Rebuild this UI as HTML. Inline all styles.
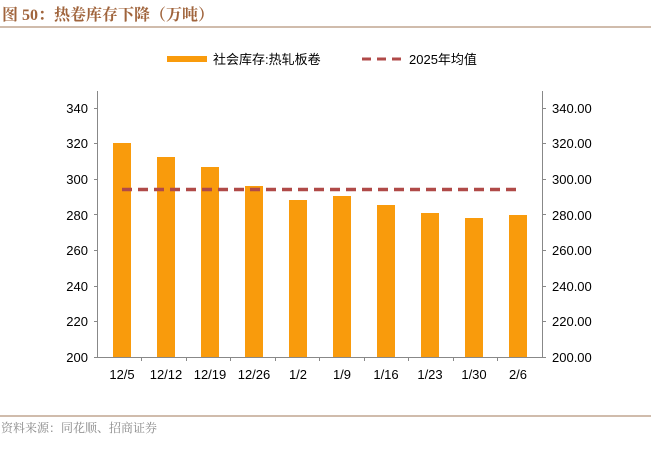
<!DOCTYPE html>
<html><head><meta charset="utf-8"><style>
body{margin:0;background:#fff;width:651px;height:450px;overflow:hidden}
text{font-family:"Liberation Sans","Noto Sans CJK SC",sans-serif}
</style></head><body>
<svg width="651" height="450" xmlns="http://www.w3.org/2000/svg">
<text x="2" y="20" font-size="16" font-weight="bold" fill="#A0643C" style="font-family:'Liberation Serif','Noto Serif CJK SC',serif">图 50：热卷库存下降（万吨）</text>
<line x1="0" y1="27" x2="651" y2="27" stroke="#A07A5A" stroke-width="1"/>
<rect x="167" y="56" width="40" height="6" fill="#F99B0C"/>
<text x="213" y="64" font-size="13" fill="#000">社会库存:热轧板卷</text>
<line x1="362" y1="59" x2="404" y2="59" stroke="#B04A48" stroke-width="3" stroke-dasharray="9,6"/>
<text x="409" y="64" font-size="13" fill="#000">2025年均值</text>
<g stroke="#888" stroke-width="1">
<line x1="97.5" y1="91" x2="97.5" y2="357"/>
<line x1="542.5" y1="91" x2="542.5" y2="357"/>
<line x1="97" y1="357.5" x2="543" y2="357.5"/>
<path d="M94 108.5h4M94 143.5h4M94 179.5h4M94 214.5h4M94 250.5h4M94 286.5h4M94 321.5h4M94 357.5h4"/>
<path d="M542 108.5h4M542 143.5h4M542 179.5h4M542 214.5h4M542 250.5h4M542 286.5h4M542 321.5h4M542 357.5h4"/>
<path d="M141.5 357v4M186.5 357v4M230.5 357v4M275.5 357v4M319.5 357v4M364.5 357v4M408.5 357v4M453.5 357v4M497.5 357v4"/>
</g>
<g font-size="13" fill="#000" text-anchor="end">
<text x="88" y="113">340</text><text x="88" y="148">320</text><text x="88" y="184">300</text><text x="88" y="220">280</text><text x="88" y="255">260</text><text x="88" y="291">240</text><text x="88" y="326">220</text><text x="88" y="362">200</text>
</g>
<g font-size="13" fill="#000">
<text x="552" y="113">340.00</text><text x="552" y="148">320.00</text><text x="552" y="184">300.00</text><text x="552" y="220">280.00</text><text x="552" y="255">260.00</text><text x="552" y="291">240.00</text><text x="552" y="326">220.00</text><text x="552" y="362">200.00</text>
</g>
<g fill="#F99B0C">
<rect x="113" y="143" width="18" height="214"/>
<rect x="157" y="157" width="18" height="200"/>
<rect x="201" y="167" width="18" height="190"/>
<rect x="245" y="186" width="18" height="171"/>
<rect x="289" y="200" width="18" height="157"/>
<rect x="333" y="196" width="18" height="161"/>
<rect x="377" y="205" width="18" height="152"/>
<rect x="421" y="213" width="18" height="144"/>
<rect x="465" y="218" width="18" height="139"/>
<rect x="509" y="215" width="18" height="142"/>
</g>
<line x1="122" y1="189.5" x2="520" y2="189.5" stroke="#B04A48" stroke-width="3.5" stroke-dasharray="10,6"/>
<g font-size="13" fill="#000" text-anchor="middle">
<text x="122" y="379">12/5</text><text x="166" y="379">12/12</text><text x="210" y="379">12/19</text><text x="254" y="379">12/26</text><text x="298" y="379">1/2</text><text x="342" y="379">1/9</text><text x="386" y="379">1/16</text><text x="430" y="379">1/23</text><text x="474" y="379">1/30</text><text x="518" y="379">2/6</text>
</g>
<line x1="0" y1="416" x2="651" y2="416" stroke="#A07A5A" stroke-width="1"/>
<text x="1" y="432" font-size="12" fill="#888" style="font-family:'Noto Serif CJK SC',serif">资料来源：同花顺、招商证券</text>
</svg>
</body></html>
